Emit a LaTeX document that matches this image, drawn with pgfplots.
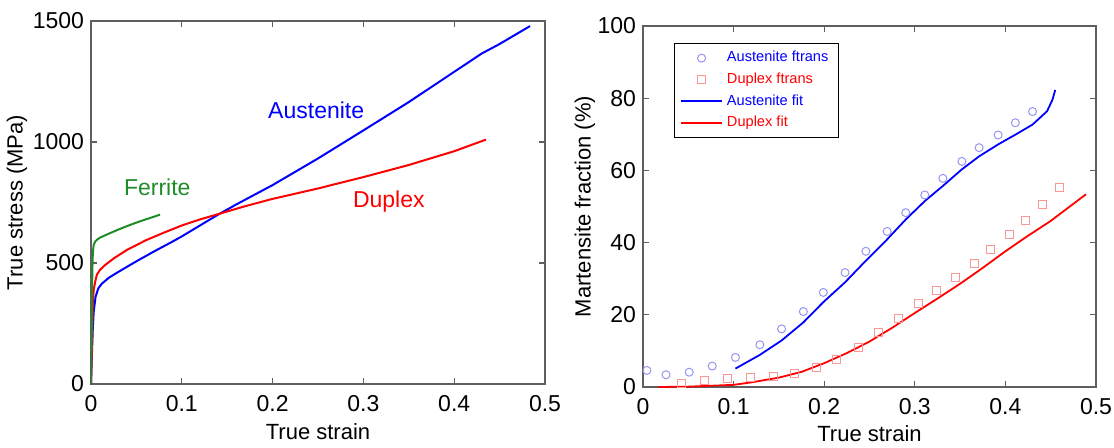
\documentclass[border=0pt]{standalone}
\usepackage{pgfplots}
\pgfplotsset{compat=1.18}
\usepackage{fontspec}
\setmainfont{Liberation Sans}

\definecolor{ferr}{RGB}{30,140,40}
\definecolor{lblue}{RGB}{150,150,240}
\definecolor{lred}{RGB}{250,150,150}
\definecolor{axgray}{RGB}{95,95,95}

\pgfplotsset{
  panel/.style={
    scale only axis, anchor=south west,
    axis line style={axgray, line width=0.6pt},
    tick style={axgray, line width=0.6pt},
    tick align=inside, major tick length=3pt,
    ticklabel style={font=\fontsize{11.5}{13}\selectfont},
    xticklabel style={yshift=-2pt},
    label style={font=\fontsize{11}{13}\selectfont},
    x label style={at={(axis description cs:0.5,-0.13)}, anchor=center},
    /pgf/number format/assume math mode=true,
    /pgf/number format/1000 sep={},
    scaled ticks=false,
    xmin=0, xmax=0.5,
    xtick={0,0.1,0.2,0.3,0.4,0.5},
    xlabel={True strain},
  },
  wide legend/.style={
    legend image code/.code={%
      \draw[mark repeat=2,mark phase=2,##1] plot coordinates {(0cm,0cm) (0.36cm,0cm) (0.72cm,0cm)};}
  },
}

\begin{document}
\begin{tikzpicture}
\path[use as bounding box] (0,0) rectangle (557pt,223.5pt);

% left: stress-strain curves
\begin{axis}[panel,
  at={(45.5pt,31.5pt)}, width=227pt, height=181.5pt,
  ymin=0, ymax=1500, ytick={0,500,1000,1500},
  ylabel={True stress (MPa)},
  y label style={at={(axis description cs:-0.163,0.5)}, anchor=center, rotate=0},
]
\addplot[blue, line width=1pt] coordinates {
  (0,0) (0.001,120) (0.002,230) (0.003,300) (0.005,360) (0.008,395)
  (0.012,415) (0.02,440) (0.03,463) (0.04,485) (0.05,507) (0.06,528)
  (0.07,549) (0.08,569) (0.09,589) (0.1,610) (0.12,655) (0.14,700)
  (0.16,742) (0.18,782) (0.2,822) (0.25,932) (0.3,1048) (0.35,1165)
  (0.4,1290) (0.43,1365) (0.45,1405) (0.4835,1479)
};
\addplot[red, line width=1pt] coordinates {
  (0,0) (0.001,150) (0.002,330) (0.003,390) (0.005,430) (0.0065,452)
  (0.01,472) (0.015,490) (0.025,519) (0.04,555) (0.061,595) (0.08,625)
  (0.1,655) (0.12,680) (0.14,702) (0.17,735) (0.2,765) (0.25,808)
  (0.3,855) (0.35,905) (0.4,962) (0.435,1010)
};
\addplot[ferr, line width=1pt] coordinates {
  (0,0) (0.0008,200) (0.0012,400) (0.0018,520) (0.0025,560) (0.003,575)
  (0.0045,588) (0.0065,596) (0.01,605) (0.02,622) (0.03,638) (0.04,653)
  (0.05,667) (0.06,680) (0.07,692) (0.076,700)
};
\node[text=blue, font=\fontsize{11.5}{13}\selectfont] at (axis cs:0.248,1130) {Austenite};
\node[text=ferr, font=\fontsize{11.5}{13}\selectfont] at (axis cs:0.073,815) {Ferrite};
\node[text=red, font=\fontsize{11.5}{13}\selectfont] at (axis cs:0.328,755) {Duplex};
\end{axis}

% right: martensite fraction
\begin{axis}[panel, wide legend,
  at={(321.5pt,30pt)}, width=226.5pt, height=180.5pt,
  ymin=0, ymax=100, ytick={0,20,40,60,80,100},
  ylabel={Martensite fraction (\%)},
  y label style={at={(axis description cs:-0.128,0.5)}, anchor=center, rotate=0},
  legend cell align=left,
  legend style={at={(0.068,0.953)}, anchor=north west, draw=black,
    font=\fontsize{7.3}{8.5}\selectfont},
]
\addplot[only marks, mark=o, mark size=2pt, draw=lblue, line width=0.5pt] coordinates {
  (0.0043,4.6) (0.0254,3.4) (0.051,4.1) (0.0764,5.8) (0.102,8.2)
  (0.129,11.7) (0.153,16.1) (0.177,20.9) (0.199,26.2) (0.223,31.7)
  (0.246,37.6) (0.2695,43.1) (0.290,48.3) (0.311,53.2) (0.331,57.8)
  (0.352,62.5) (0.371,66.3) (0.392,69.8) (0.411,73.2) (0.430,76.3)
};
\addlegendentry[text=blue]{Austenite ftrans}
\addplot[only marks, mark=square, mark size=2pt, draw=lred, line width=0.5pt] coordinates {
  (0.0425,1.1) (0.068,1.8) (0.0936,2.3) (0.1186,2.6) (0.1435,2.9)
  (0.167,3.7) (0.192,5.3) (0.214,7.6) (0.2375,11.0) (0.260,15.0)
  (0.282,19.1) (0.3046,23.1) (0.324,26.6) (0.345,30.4) (0.3655,34.3)
  (0.384,38.2) (0.404,42.2) (0.422,46.2) (0.441,50.5) (0.4595,55.3)
};
\addlegendentry[text=red]{Duplex ftrans}
\addplot[draw=blue, line width=0.9pt] coordinates {
  (0.102,5.1) (0.129,8.9) (0.153,12.9) (0.177,17.9) (0.199,23.5)
  (0.223,29.0) (0.246,35.0) (0.2695,40.9) (0.290,46.4) (0.311,51.5)
  (0.331,55.7) (0.352,60.3) (0.371,63.9) (0.392,67.2) (0.411,69.9)
  (0.430,72.7) (0.446,76.4) (0.452,79.6) (0.455,82.3)
};
\addlegendentry[text=blue]{Austenite fit}
\addplot[draw=red, line width=0.9pt] coordinates {
  (0.017,0) (0.05,0.1) (0.1,0.6) (0.12,1.3) (0.15,2.6) (0.175,4.2)
  (0.2,6.6) (0.225,9.4) (0.25,12.6) (0.275,16.4) (0.3,20.5)
  (0.325,24.5) (0.35,28.6) (0.375,33.0) (0.4,37.6) (0.425,41.9)
  (0.45,46.0) (0.489,53.4)
};
\addlegendentry[text=red]{Duplex fit}
\end{axis}
\end{tikzpicture}
\end{document}
